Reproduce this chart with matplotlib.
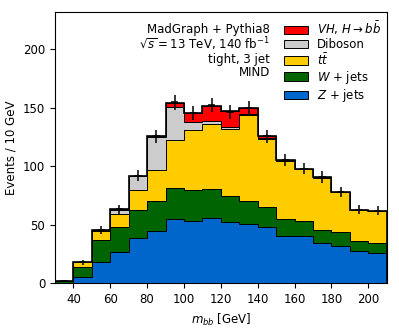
import numpy as np
import matplotlib
matplotlib.use("Agg")
import matplotlib.pyplot as plt

# m_bb binning: 10 GeV bins from 30 to 210
bin_edges = np.arange(30, 211, 10)
bin_centers = bin_edges[:-1] + 5

# per-process yields (events / bin)
z_jets = [0.3, 5.7, 18.3, 26.9, 38.7, 45.0, 55.3, 53.6, 55.6, 52.7, 50.4, 47.8, 40.7, 40.4, 34.4, 32.1, 27.2, 25.8]
w_jets = [1.5, 8.0, 18.9, 21.2, 24.3, 25.2, 26.3, 26.6, 25.2, 21.8, 20.3, 17.5, 14.3, 13.2, 11.4, 11.4, 8.6, 8.6]
ttbar = [0.2, 4.1, 7.5, 11.2, 17.2, 26.3, 40.9, 50.8, 55.4, 57.1, 73.1, 58.3, 49.5, 44.0, 44.5, 34.3, 26.8, 27.3]
diboson = [0.0, 0.1, 0.3, 3.7, 11.4, 28.3, 27.9, 6.9, 2.5, 2.0, 0.7, 1.0, 0.4, 0.3, 0.3, 0.2, 0.2, 0.2]
vh_bb = [0.0, 0.1, 0.3, 0.3, 0.5, 1.4, 3.4, 7.7, 12.8, 13.4, 5.7, 1.0, 0.3, 0.2, 0.1, 0.1, 0.1, 0.1]

# pseudo-data points with errors
data = [2.0, 18.0, 45.3, 63.3, 92.1, 125.6, 154.7, 145.8, 152.4, 146.4, 149.8, 125.6, 105.1, 98.1, 90.8, 78.3, 63.1, 62.2]
data_err = [0.7, 2.1, 3.3, 4.0, 4.8, 5.6, 6.3, 6.0, 6.2, 6.0, 6.1, 5.6, 5.1, 4.9, 4.8, 4.4, 4.0, 3.9]

samples = [z_jets, w_jets, ttbar, diboson, vh_bb]
labels = [r"$Z$ + jets", r"$W$ + jets", r"$t\bar{t}$", "Diboson", r"$VH$, $H \rightarrow b\bar{b}$"]
colors = ["#0066cc", "#006400", "#ffcc00", "#cccccc", "#ff0000"]

plt.rcParams["font.size"] = 8.5

fig = plt.figure(figsize=(3.99, 3.32), dpi=100)
ax = fig.add_axes([0.1376, 0.1467, 0.8318, 0.8172])

ax.hist([bin_centers] * len(samples), bins=bin_edges, weights=samples,
        stacked=True, histtype="stepfilled", color=colors, label=labels,
        edgecolor="black", linewidth=0.7)

total = np.sum(samples, axis=0)
ax.stairs(total, bin_edges, color="black", linewidth=1.2)

ax.errorbar(bin_centers, data, yerr=data_err, xerr=2, fmt="none",
            ecolor="black", elinewidth=1.1)

ax.set_xlim(30, 210)
ax.set_ylim(0, 232)
ax.set_xlabel(r"$m_{bb}$ [GeV]")
ax.set_ylabel("Events / 10 GeV")

handles, labs = ax.get_legend_handles_labels()
order = [labs.index(l) for l in labels[::-1]]
ax.legend([handles[i] for i in order], [labs[i] for i in order],
          loc="upper right", frameon=False, bbox_to_anchor=(1.015, 1.012),
          handlelength=2.0, handletextpad=0.8, labelspacing=0.1)

ax.text(0.648, 0.96, "MadGraph + Pythia8\n"
        r"$\sqrt{s} = 13$ TeV, 140 fb$^{-1}$" "\n"
        "tight, 3 jet\nMIND",
        transform=ax.transAxes, ha="right", va="top", linespacing=1.0)

fig.savefig("out.png", dpi=100)
